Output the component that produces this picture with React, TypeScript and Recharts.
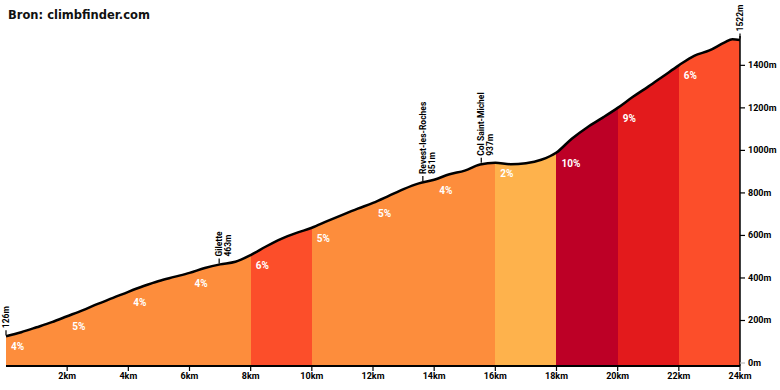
import React from 'react';
import { ComposedChart, Area, Scatter, XAxis, YAxis } from 'recharts';

const FONT = 'Roboto, "DejaVu Sans", sans-serif';

// profile, km / m
const distances = [
  0, 0.5, 1, 1.5, 2, 2.5, 3, 3.5, 4, 4.5, 5, 5.5, 6, 6.5, 7, 7.5, 8, 8.5, 9, 9.5, 10, 10.5, 11, 11.5, 12,
  12.5, 13, 13.5, 14, 14.5, 15, 15.5, 16, 16.5, 17, 17.5, 18, 18.5, 19, 19.5, 20, 20.5, 21, 21.5, 22,
  22.5, 23, 23.5, 23.75, 24,
];
const elevations = [
  126, 145, 168, 192, 220, 248, 278, 306, 335, 362, 386, 405, 424, 447, 464, 476, 508, 548, 584, 612, 636,
  667, 697, 726, 753, 785, 818, 845, 862, 888, 905, 934, 942, 935, 940, 956, 990, 1055, 1108, 1153, 1200,
  1252, 1300, 1350, 1400, 1445, 1470, 1508, 1523, 1519,
];

// gradient per 2 km section
const sectionStarts = [0, 2, 4, 6, 8, 10, 12, 14, 16, 18, 20, 22];
const sectionEnds = [2, 4, 6, 8, 10, 12, 14, 16, 18, 20, 22, 24];
const sectionGrades = [4, 5, 4, 4, 6, 5, 5, 4, 2, 10, 9, 6];

// named points along the climb
const waypointKm = [0, 6.97, 13.63, 15.54, 24];
const waypointElev = [126, 463, 851, 937, 1522];
const waypointNames = ['', 'Gilette', 'Revest-les-Roches', 'Col Saint-Michel', ''];

const xTicks = [2, 4, 6, 8, 10, 12, 14, 16, 18, 20, 22, 24];
const yTicks = [0, 200, 400, 600, 800, 1000, 1200, 1400];

const totalKm = distances[distances.length - 1];

const gradeColor = (g: number) => {
  if (g <= 2) return '#feb24c';
  if (g <= 5) return '#fd8d3c';
  if (g <= 8) return '#fc4e2a';
  if (g <= 9) return '#e31a1c';
  return '#bd0026';
};

const profile = distances.map((km, i) => ({ km, elev: elevations[i] }));

const gradeLabels = sectionStarts.map((s, i) => ({
  km: s,
  elev: elevations[distances.indexOf(s)],
  grade: sectionGrades[i],
}));

const waypoints = waypointKm.map((km, i) => ({ km, elev: waypointElev[i], name: waypointNames[i] }));

const GradeLabel = (props: any) => {
  const { cx, cy, payload } = props;
  return (
    <text x={cx + 5} y={cy + 14} fill="#fff" fontSize={10} fontWeight={700} fontFamily={FONT}>
      {payload.grade}%
    </text>
  );
};

const WaypointMark = (props: any) => {
  const { cx, cy, payload } = props;
  const top = cy - 8;
  const elevText = `${payload.elev}m`;
  return (
    <g>
      <line x1={cx} y1={cy - 6} x2={cx} y2={cy - 1} stroke="#000" strokeWidth={1.2} />
      <g transform={`translate(${cx},${top}) rotate(-90)`}>
        {payload.name ? (
          <>
            <text x={0} y={3} fontSize={8.5} fontWeight={700} fontFamily={FONT} fill="#000">{payload.name}</text>
            <text x={0} y={12} fontSize={8.5} fontWeight={700} fontFamily={FONT} fill="#000">{elevText}</text>
          </>
        ) : (
          <text x={0} y={3} fontSize={8.5} fontWeight={700} fontFamily={FONT} fill="#000">{elevText}</text>
        )}
      </g>
    </g>
  );
};

const YTick = (props: any) => {
  const { x, y, payload } = props;
  return (
    <g>
      <line x1={x - 8} y1={y} x2={x - 3} y2={y} stroke={payload.value === 0 ? '#bbb' : '#000'} strokeWidth={1.2} />
      <text x={x} y={y} dy={3} fontSize={9} fontWeight={700} fontFamily={FONT} fill="#000">
        {payload.value}m
      </text>
    </g>
  );
};

export default function App() {
  return (
    <div style={{ position: 'absolute', left: 0, top: 0, width: 780, height: 390, background: '#fff' }}>
      <div
        style={{
          position: 'absolute',
          left: 8,
          top: 10,
          fontFamily: '"DejaVu Sans", sans-serif',
          fontWeight: 700,
          fontSize: 11.5,
          lineHeight: '11.5px',
          color: '#111',
          whiteSpace: 'nowrap',
        }}
      >
        Bron: climbfinder.com
      </div>
      <ComposedChart width={780} height={390} data={profile} margin={{ top: 36, right: 0, bottom: 0, left: 6 }}>
        <defs>
          <linearGradient id="gradeFill" x1="0" y1="0" x2="1" y2="0">
            {sectionStarts.map((s, i) => [
              <stop key={`a${i}`} offset={s / totalKm} stopColor={gradeColor(sectionGrades[i])} />,
              <stop key={`b${i}`} offset={sectionEnds[i] / totalKm} stopColor={gradeColor(sectionGrades[i])} />,
            ])}
          </linearGradient>
        </defs>
        <XAxis
          dataKey="km"
          type="number"
          domain={[0, totalKm]}
          ticks={xTicks}
          interval={0}
          tickFormatter={(v) => `${v}km`}
          axisLine={{ stroke: '#000', strokeWidth: 2 }}
          tickLine={{ stroke: '#000', strokeWidth: 1.2 }}
          tickSize={5}
          tickMargin={2}
          height={24}
          tick={{ fill: '#000', fontSize: 9, fontWeight: 700, fontFamily: FONT }}
        />
        <YAxis
          orientation="right"
          type="number"
          domain={[-14, 1538]}
          ticks={yTicks}
          interval={0}
          width={40}
          axisLine={{ stroke: '#000', strokeWidth: 1.5 }}
          tickLine={false}
          tickSize={5}
          tickMargin={3}
          tick={<YTick />}
        />
        <Area
          type="monotone"
          dataKey="elev"
          baseValue="dataMin"
          fill="url(#gradeFill)"
          fillOpacity={1}
          stroke="#000"
          strokeWidth={2.5}
          isAnimationActive={false}
        />
        <Scatter data={gradeLabels} dataKey="elev" shape={<GradeLabel />} isAnimationActive={false} />
        <Scatter data={waypoints} dataKey="elev" shape={<WaypointMark />} isAnimationActive={false} />
      </ComposedChart>
    </div>
  );
}
